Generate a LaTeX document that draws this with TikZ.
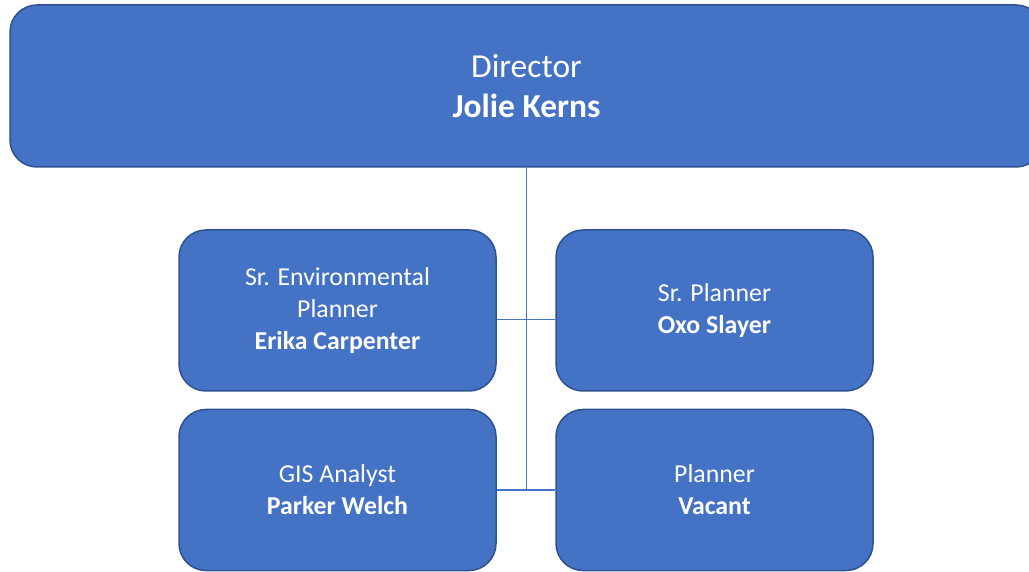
\documentclass[tikz,border=0pt]{standalone}
\usepackage{fontspec}
\setmainfont{Carlito}
\definecolor{boxblue}{HTML}{4472C4}
\definecolor{boxedge}{HTML}{2F528F}

\begin{document}
\begin{tikzpicture}
[x=1pt,y=1pt,%
  every node/.style={draw=boxedge,fill=boxblue,line width=1.5pt,text=white,
    rounded corners=27pt,inner sep=0pt,align=center},%
  role/.style={minimum width=317pt,minimum height=161pt,
    font=\fontsize{25.8}{32.2}\selectfont},%
  link/.style={draw=boxblue,line width=1.6pt}]
\useasboundingbox (0,0) rectangle (1029,571);
\node[minimum width=1033pt,minimum height=162pt,
  font=\fontsize{33.5}{40.5}\selectfont] (director) at (526.5,485)
  {Director\\\textbf{Jolie Kerns}};
% staff
\node[role] (envplanner) at (337.5,260.5)
  {Sr. Environmental\\Planner\\\textbf{Erika Carpenter}};
\node[role] (srplanner) at (714.5,260.5)
  {Sr. Planner\\\textbf{Oxo Slayer}};
\node[role] (gis) at (337.5,81)
  {GIS Analyst\\\textbf{Parker Welch}};
\node[role] (planner) at (714.5,81)
  {Planner\\\textbf{Vacant}};
\coordinate (spine) at (director.south |- gis.east);
% connectors
\draw[link] (director.south) -- (spine);
\draw[link] ([yshift=-9pt]envplanner.east) -- ([yshift=-9pt]srplanner.west);
\draw[link] (gis.east) -- (planner.west);
\end{tikzpicture}
\end{document}
